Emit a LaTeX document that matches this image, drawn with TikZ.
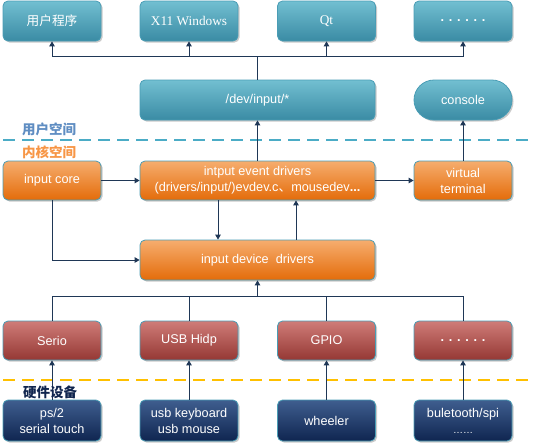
\documentclass[tikz,border=0pt]{standalone}
\usepackage{fontspec}
\setmainfont{Liberation Sans}
\newfontfamily\cjk{Noto Sans CJK SC}
\newfontfamily\serifx{Liberation Serif}
\usetikzlibrary{shadows,arrows.meta}
\definecolor{tealtop}{HTML}{72BFD1}
\definecolor{tealbot}{HTML}{3A8BA4}
\definecolor{orgtop}{HTML}{F6AD6E}
\definecolor{orgbot}{HTML}{E46C0A}
\definecolor{redtop}{HTML}{CF7C78}
\definecolor{redbot}{HTML}{953834}
\definecolor{navtop}{HTML}{3F5E8F}
\definecolor{navbot}{HTML}{0F2550}
\definecolor{bord}{HTML}{4A9DB5}
\definecolor{lin}{HTML}{1F3756}
\definecolor{ublue}{HTML}{5F8DC2}
\definecolor{korg}{HTML}{F79646}
\definecolor{hnavy}{HTML}{10254E}
\definecolor{dashblue}{HTML}{4BACC6}
\definecolor{dashyel}{HTML}{FFC000}
\tikzset{
  box/.style={draw=bord, line width=0.8pt, rounded corners=5pt, shading=axis,
    minimum height=40pt, inner sep=1pt, align=center, text=white,
    font=\fontsize{12.7}{16}\selectfont,
    drop shadow={shadow xshift=1.5pt, shadow yshift=-1.5pt, opacity=0.35, fill=black!60}},
  narrow/.style={box, minimum width=98pt},
  wide/.style={box, minimum width=235pt},
  tealb/.style={top color=tealtop, bottom color=tealbot},
  orgb/.style={top color=orgtop, bottom color=orgbot},
  redb/.style={top color=redtop, bottom color=redbot},
  navb/.style={top color=navtop, bottom color=navbot},
  conn/.style={draw=lin, line width=1pt},
  arr/.style={conn, -{Triangle[length=5pt,width=5.5pt]}},
  lbl/.style={font=\cjk\bfseries\fontsize{13.5}{13.5}\selectfont, anchor=west, inner sep=0pt},
}
\begin{document}
\begin{tikzpicture}[x=1pt,y=-1pt]
\useasboundingbox (0,0) rectangle (534,442);
% top row
\node[narrow,tealb] (t1) at (52,21) {\cjk 用户程序};
\node[narrow,tealb] (t2) at (189,21) {\serifx\fontsize{13.3}{16}\selectfont X11 Windows};
\node[narrow,tealb] (t3) at (326.5,21) {\serifx\fontsize{13.3}{16}\selectfont Qt};
\node[narrow,tealb] (t4) at (463,21) {\textbf{. . . . . .}};
% dev row
\node[wide,tealb] (dev) at (257.5,100) {/dev/input/*};
\node[narrow,tealb,rounded corners=20pt] (con) at (463,100) {console};
% labels and dashed lines
\node[lbl, text=ublue] (lu) at (22,129) {用户空间};
\draw[dashblue, line width=1.2pt, dash pattern=on 12pt off 7pt] (3,140) coordinate (d1) -- (534,140) coordinate (d2);
\node[lbl, text=korg] (lk) at (22,152) {内核空间};
% orange row
\node[narrow,orgb,minimum height=39pt] (core) at (52,180.5) {input core};
\node[wide,orgb,minimum height=39pt] (ev) at (257.5,180.5) {intput event drivers\\(drivers/input/)evdev.c{\cjk 、}mousedev\textbf{...}};
\node[narrow,orgb,minimum height=39pt] (vt) at (463,180.5) {virtual\\terminal};
% device drivers
\node[wide,orgb] (drv) at (257.5,260) {input device\ \ drivers};
% red row
\node[narrow,redb,minimum height=39pt] (r1) at (52,340.5) {Serio};
\node[narrow,redb,minimum height=39pt] (r2) at (189,340.5) {USB Hidp};
\node[narrow,redb,minimum height=39pt] (r3) at (326.5,340.5) {GPIO};
\node[narrow,redb,minimum height=39pt] (r4) at (463,340.5) {\textbf{. . . . . .}};
% hardware
\draw[dashyel, line width=1.2pt, dash pattern=on 12pt off 7pt] (3,380) coordinate (y1) -- (534,380) coordinate (y2);
\node[narrow,navb,minimum height=41pt] (n1) at (52,420.5) {ps/2\\serial touch};
\node[narrow,navb,minimum height=41pt] (n2) at (189,420.5) {usb keyboard\\usb mouse};
\node[narrow,navb,minimum height=41pt] (n3) at (326.5,420.5) {wheeler};
\node[narrow,navb,minimum height=41pt] (n4) at (463,420.5) {buletooth/spi\\{\fontsize{10}{12}\selectfont……}};
% connectors top
\coordinate (bus1) at (257.5,56);
\draw[conn] (dev.north) -- (bus1);
\draw[arr] (bus1) -| (t1.south);
\draw[arr] (bus1) -| (t2.south);
\draw[arr] (bus1) -| (t3.south);
\draw[arr] (bus1) -| (t4.south);
\draw[arr] (ev.north) -- (dev.south);
\draw[arr] (vt.north) -- (con.south);
\draw[arr] (core.east) -- (ev.west);
\draw[arr] (ev.east) -- (vt.west);
\draw[arr] ([xshift=-39.5pt]ev.south) -- ([xshift=-39.5pt]drv.north);
\draw[arr] ([xshift=38.5pt]drv.north) -- ([xshift=38.5pt]ev.south);
\draw[arr] (core.south) |- (drv.west);
% bottom bus
\coordinate (bus2) at (257.5,296);
\draw[arr] (bus2) -- (drv.south);
\draw[conn] (r1.north) |- (bus2);
\draw[conn] (r2.north) |- (bus2);
\draw[conn] (r3.north) |- (bus2);
\draw[conn] (r4.north) |- (bus2);
\draw[arr] (n1.north) -- (r1.south);
\draw[arr] (n2.north) -- (r2.south);
\draw[arr] (n3.north) -- (r3.south);
\draw[arr] (n4.north) -- (r4.south);
\node[lbl, text=hnavy] (lh) at (23,392.5) {硬件设备};
\end{tikzpicture}
\end{document}
